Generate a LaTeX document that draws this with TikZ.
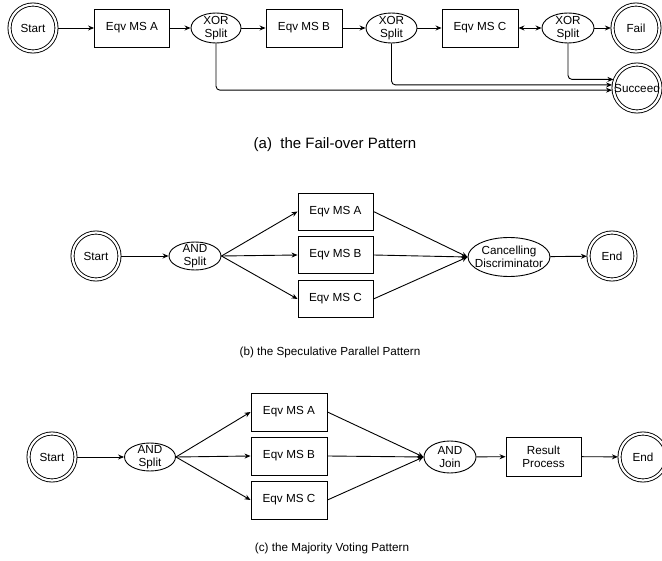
\documentclass[tikz,border=0pt]{standalone}
\usepackage{fontspec}
\setmainfont{Liberation Sans}
\usetikzlibrary{arrows.meta,shapes.geometric}

\begin{document}
\begin{tikzpicture}[x=1pt,y=-1pt,line width=0.9pt,
  every node/.style={font=\fontsize{11.7}{13}\selectfont,align=center,inner sep=0pt},
  task/.style={draw,rectangle,minimum width=75pt,minimum height=38pt},
  gate/.style={draw,ellipse,minimum width=51pt,minimum height=30pt},
  term/.style={draw,circle,double,double distance=2.2pt,minimum size=47pt,outer sep=1.6pt},
  flow/.style={-{Stealth[length=6pt,width=5pt]}},
  both/.style={{Stealth[length=6pt,width=5pt]}-{Stealth[length=6pt,width=5pt]}},
  caption/.style={font=\fontsize{11.7}{13}\selectfont},
  bigcaption/.style={font=\fontsize{15}{17}\selectfont},
]
\useasboundingbox (0,0) rectangle (662,561);

% ---------- (a) fail-over ----------
\node[term] (sa) at (33,28) {Start};
\node[task] (ma) at (132,28) {Eqv MS A};
\node[gate,minimum width=50pt,label={center:XOR\\Split}] (xa) at (216,28) {};
\node[task,minimum width=76pt] (mb) at (304,28) {Eqv MS B};
\node[gate,label={center:XOR\\Split}] (xb) at (391.5,28) {};
\node[task,minimum width=76pt] (mc) at (480,28) {Eqv MS C};
\node[gate,minimum width=52pt,label={center:XOR\\Split}] (xc) at (568,28) {};
\node[term] (fail) at (636,28) {Fail};
\node[term] (succ) at (637,88) {Succeed};
\node[bigcaption] (capa) at (335,145) {(a)\ \ the Fail-over Pattern};

\draw[flow] (sa) -- (ma);
\draw[flow] (ma) -- (xa);
\draw[flow] (xa) -- (mb);
\draw[flow] (mb) -- (xb);
\draw[flow] (xb) -- (mc);
\draw[both] (mc) -- (xc);
\draw[flow] (xc) -- (fail);
\draw[flow,rounded corners=4pt] (xc.south) |- (succ.160);
\draw[flow,rounded corners=4pt] (xb.south) |- (succ.173);
\draw[flow,rounded corners=4pt] (xa.south) |- (succ.185);

% ---------- (b) speculative parallel ----------
\node[term] (sb) at (96,256) {Start};
\node[gate,minimum width=52pt,minimum height=28pt,label={center:AND\\Split}] (ab) at (195,256) {};
\node[task,minimum height=37pt] (pa) at (335.5,211.5) {Eqv MS A};
\node[task,minimum height=37pt] (pb) at (335.5,255) {Eqv MS B};
\node[task,minimum height=37pt] (pc) at (335.5,299) {Eqv MS C};
\node[gate,minimum width=82pt,minimum height=39pt,label={center:Cancelling\\Discriminator}] (cd) at (509,257) {};
\node[term] (eb) at (612,256) {End};
\node[caption] (capb) at (330,352) {(b) the Speculative Parallel Pattern};

\draw[flow] (sb) -- (ab);
\draw[flow] (ab.east) -- (pa.west);
\draw[flow] (ab.east) -- (pb.west);
\draw[flow] (ab.east) -- (pc.west);
\draw[flow] (pa.east) -- (cd.west);
\draw[flow] (pb.east) -- (cd.west);
\draw[flow] (pc.east) -- (cd.west);
\draw[flow] (cd) -- (eb);

% ---------- (c) majority voting ----------
\node[term] (sc) at (52,457) {Start};
\node[gate,minimum height=28pt,label={center:AND\\Split}] (ac) at (150,457) {};
\node[task,minimum width=76pt] (va) at (289,412) {Eqv MS A};
\node[task,minimum width=76pt] (vb) at (289,456) {Eqv MS B};
\node[task,minimum width=76pt] (vc) at (289,500) {Eqv MS C};
\node[gate,minimum width=52pt,minimum height=32pt,label={center:AND\\Join}] (jc) at (450,457) {};
\node[task,minimum height=39pt] (rp) at (543.5,456.5) {Result\\Process};
\node[term] (ec) at (643,457) {End};
\node[caption] (capc) at (332,548) {(c) the Majority Voting Pattern};

\draw[flow] (sc) -- (ac);
\draw[flow] (ac.east) -- (va.west);
\draw[flow] (ac.east) -- (vb.west);
\draw[flow] (ac.east) -- (vc.west);
\draw[flow] (va.east) -- (jc.west);
\draw[flow] (vb.east) -- (jc.west);
\draw[flow] (vc.east) -- (jc.west);
\draw[flow] (jc) -- (rp);
\draw[flow] (rp) -- (ec);
\end{tikzpicture}
\end{document}
